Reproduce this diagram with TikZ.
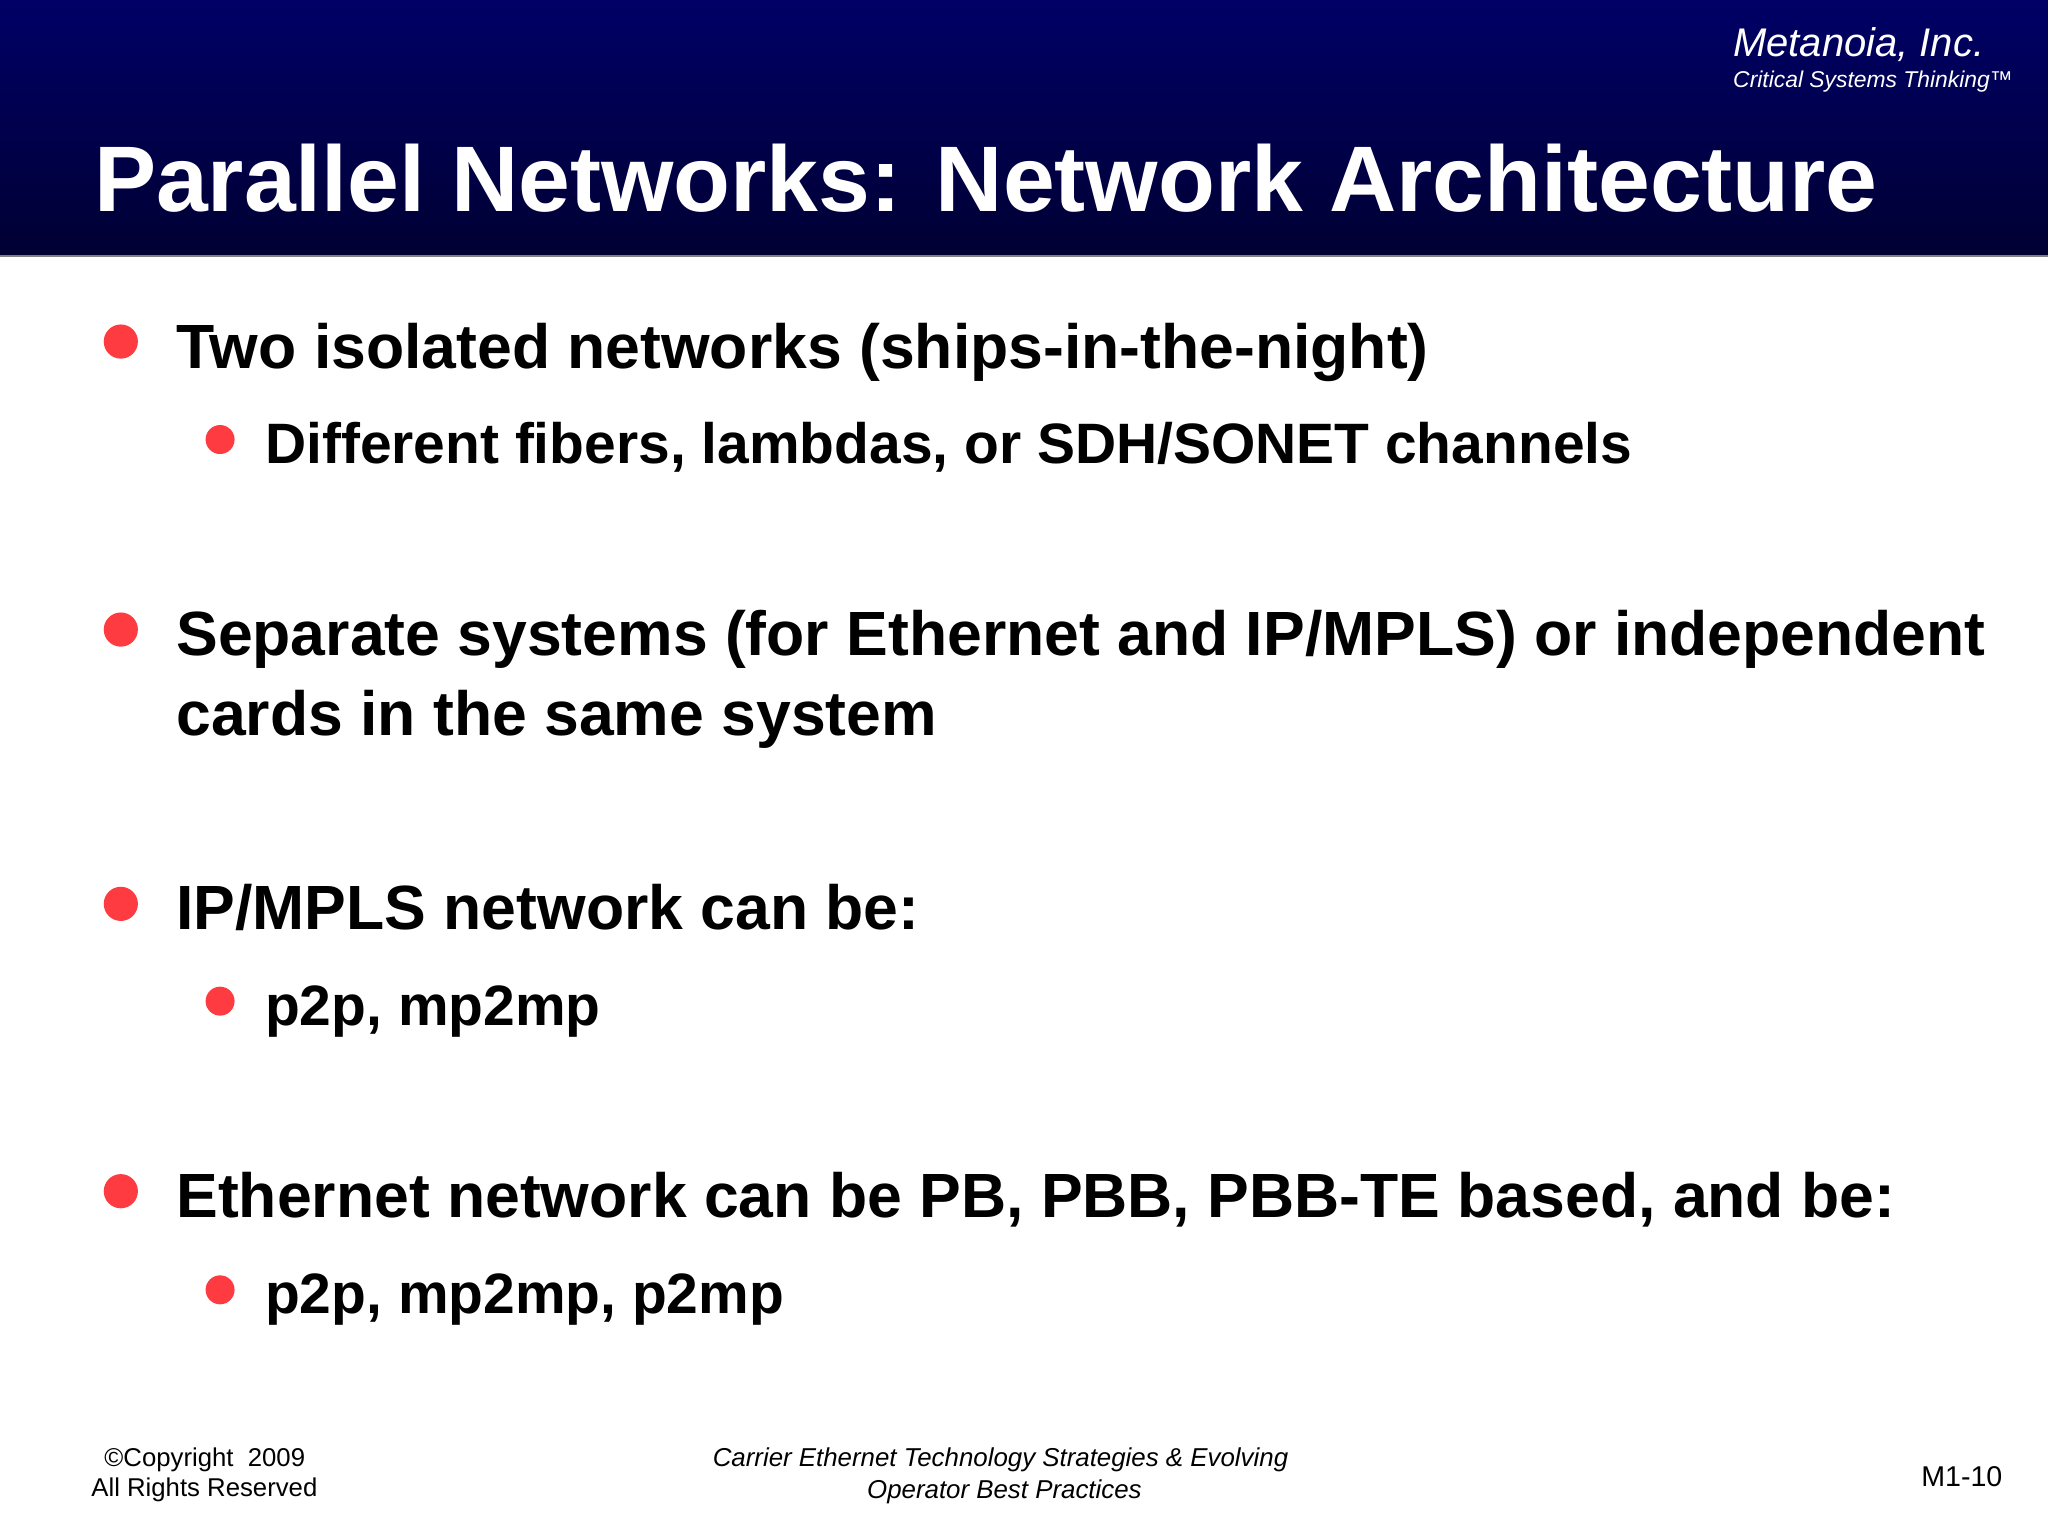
\documentclass[tikz,border=0pt]{standalone}
\usepackage{fontspec}
\setmainfont{Liberation Sans}
\usepackage{xcolor}
\definecolor{BannerTop}{HTML}{000066}
\definecolor{BannerBottom}{HTML}{000033}
\definecolor{BulletRed}{HTML}{FF3B42}
\tikzset{
  every node/.style={
    anchor=base west,
    inner sep=0pt,
    outer sep=0pt
  },
  major/.style={
    font=\fontsize{47.85}{47.85}\selectfont\bfseries,
    text=black
  },
  minor/.style={
    font=\fontsize{43.6}{43.6}\selectfont\bfseries,
    text=black
  },
  majordot/.style={
    shape=circle,
    fill=BulletRed,
    minimum size=0.92cm,
    anchor=center
  },
  minordot/.style={
    shape=circle,
    fill=BulletRed,
    minimum size=0.78cm,
    anchor=center
  },
  foot/.style={
    font=\fontsize{19.7}{19.7}\selectfont,
    text=black
  },
  footit/.style={
    font=\fontsize{19.8}{19.8}\selectfont\itshape,
    text=black,
    anchor=base
  }
}
\begin{document}
\begin{tikzpicture}[x=1pt,y=-1pt]
    % 1pt per px in the shrunk reference
    \useasboundingbox (0,0) rectangle (1568,1176);
    \shade [top color=BannerTop, bottom color=BannerBottom] (0,0) rectangle (1568,196);
    \draw [gray, line width=0.8pt] (0,196) -- (1568,196);
    \node [text=white, font=\fontsize{30.6}{30.6}\selectfont\itshape] (company) at (1327,43) {Metanoia, Inc.};
    \node [text=white, font=\fontsize{17.5}{17.5}\selectfont\itshape] (motto) at (1327,67) {Critical Systems Thinking™};
    \node [text=white, font=\fontsize{71.3}{71.3}\selectfont\bfseries] (title) at (72,162) {Parallel Networks: Network Architecture};
    % bullets
    \node [majordot] (dot1) at (92.5,261.5) {};
    \node [major] (isolated) at (135,282) {Two isolated networks (ships-in-the-night)};
    \node [minordot] (dot1a) at (168.5,336.5) {};
    \node [minor] (fibers) at (203,355) {Different fibers, lambdas, or SDH/SONET channels};
    \node [majordot] (dot2) at (92.5,482) {};
    \node [major] (separate) at (135,502) {Separate systems (for Ethernet and IP/MPLS) or independent};
    \node [major] (cards) at (135,563) {cards in the same system};
    \node [majordot] (dot3) at (92.5,692) {};
    \node [major] (mpls) at (135,712) {IP/MPLS network can be:};
    \node [minordot] (dot3a) at (168.5,766.5) {};
    \node [minor] (mplstypes) at (203,785) {p2p, mp2mp};
    \node [majordot] (dot4) at (92.5,912) {};
    \node [major] (ethernet) at (135,932) {Ethernet network can be PB, PBB, PBB-TE based, and be:};
    \node [minordot] (dot4a) at (168.5,987.5) {};
    \node [minor] (ethtypes) at (203,1006) {p2p, mp2mp, p2mp};
    % footer
    \node [foot] (copyright) at (80,1123) {©Copyright\ \ 2009};
    \node [foot] (rights) at (70,1146) {All Rights Reserved};
    \node [footit] (course) at (766,1123) {Carrier Ethernet Technology Strategies \& Evolving};
    \node [footit] (course2) at (769,1147) {Operator Best Practices};
    \node [foot, font=\fontsize{21.9}{21.9}\selectfont] (page) at (1471,1138) {M1-10};
\end{tikzpicture}
\end{document}
